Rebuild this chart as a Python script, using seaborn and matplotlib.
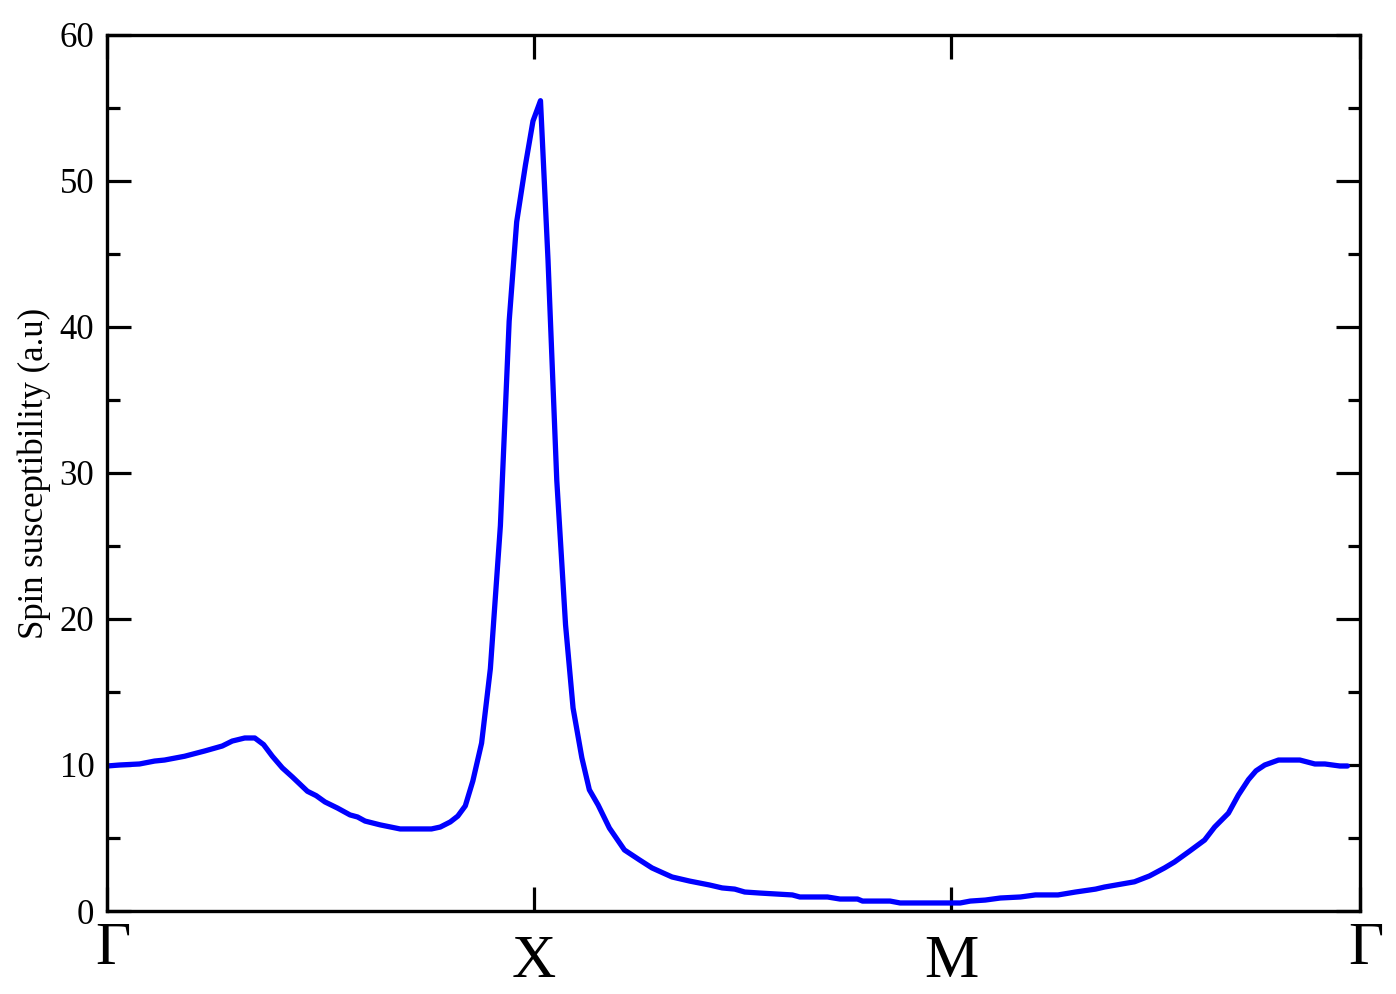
import matplotlib
matplotlib.use("Agg")
import matplotlib.pyplot as plt
import seaborn as sns
import pandas as pd

# caminho no espaco k (fracao do caminho Gamma-X-M-Gamma)
k_path = [0.000, 0.010, 0.026, 0.038, 0.046, 0.062, 0.078, 0.092, 0.100, 0.110,
          0.118, 0.125, 0.132, 0.140, 0.148, 0.160, 0.167, 0.174, 0.184, 0.194,
          0.200, 0.206, 0.218, 0.234, 0.246, 0.259, 0.266, 0.274, 0.280, 0.286,
          0.292, 0.299, 0.306, 0.314, 0.321, 0.327, 0.334, 0.340, 0.346, 0.352,
          0.359, 0.366, 0.372, 0.379, 0.385, 0.392, 0.401, 0.413, 0.425, 0.435,
          0.444, 0.451, 0.465, 0.481, 0.491, 0.501, 0.509, 0.521, 0.547, 0.553,
          0.575, 0.585, 0.599, 0.603, 0.625, 0.633, 0.673, 0.681, 0.689, 0.701,
          0.713, 0.729, 0.741, 0.759, 0.773, 0.789, 0.796, 0.820, 0.832, 0.844,
          0.852, 0.864, 0.876, 0.884, 0.895, 0.903, 0.911, 0.917, 0.924, 0.935,
          0.944, 0.952, 0.964, 0.972, 0.984, 0.990]
chi = [9.93, 10.0, 10.07, 10.27, 10.34, 10.6, 10.96, 11.3, 11.64, 11.85,
       11.85, 11.4, 10.6, 9.8, 9.18, 8.2, 7.9, 7.47, 7.05, 6.58,
       6.44, 6.16, 5.9, 5.62, 5.62, 5.62, 5.75, 6.1, 6.5, 7.2,
       8.9, 11.5, 16.6, 26.4, 40.4, 47.2, 51.1, 54.1, 55.5, 44.6,
       29.5, 19.6, 13.9, 10.5, 8.3, 7.26, 5.68, 4.18, 3.5, 2.95,
       2.6, 2.33, 2.05, 1.78, 1.58, 1.5, 1.3, 1.23, 1.1, 0.96,
       0.96, 0.82, 0.82, 0.68, 0.68, 0.55, 0.55, 0.55, 0.68, 0.75,
       0.89, 0.96, 1.1, 1.1, 1.3, 1.5, 1.64, 2.0, 2.4, 2.95,
       3.36, 4.1, 4.86, 5.75, 6.7, 7.95, 9.0, 9.6, 10.0, 10.34,
       10.34, 10.34, 10.07, 10.07, 9.93, 9.93]

hs_pos = [0.0, 0.3408, 0.6736, 1.0]
hs_labels = ["Γ", "X", "M", "Γ"]
y_ticks = [0, 10, 20, 30, 40, 50, 60]

df = pd.DataFrame({"k": k_path, "chi": chi})

sns.set_style("ticks")
plt.rcParams["font.family"] = ["Liberation Serif", "DejaVu Serif"]
plt.rcParams["text.color"] = "black"
plt.rcParams["axes.labelcolor"] = "black"
plt.rcParams["xtick.color"] = "black"
plt.rcParams["ytick.color"] = "black"
plt.rcParams["axes.edgecolor"] = "black"

fig = plt.figure(figsize=(13.96, 9.94), dpi=100)
ax = fig.add_axes([0.0766, 0.0835, 0.8976, 0.8813])

sns.lineplot(data=df, x="k", y="chi", ax=ax, color="#0000ff", linewidth=3.8)

ax.set_xlim(0, 1)
ax.set_ylim(0, 60)

# eixo y: ticks principais e secundarios para dentro, dos dois lados
ax.set_yticks(y_ticks)
ax.set_yticks(range(5, 60, 10), minor=True)
ax.tick_params(axis="y", which="major", direction="in", length=17, width=2.3,
               left=True, right=True, labelsize=25, pad=9)
ax.tick_params(axis="y", which="minor", direction="in", length=9, width=2.3,
               left=True, right=True)

# eixo x: pontos de alta simetria, rotulos escritos a mao
ax.set_xticks(hs_pos)
ax.set_xticklabels([])
ax.tick_params(axis="x", which="major", direction="in", length=17, width=2.3,
               top=True, bottom=True)
for p, lab in zip(hs_pos, hs_labels):
    dy = 0.0 if lab == "Γ" else -0.015
    ax.text(p + (0.005 if lab == "Γ" else 0), dy - 0.012, lab,
            transform=ax.get_xaxis_transform(), ha="center", va="top",
            fontsize=44, color="black")

for s in ax.spines.values():
    s.set_linewidth(2.4)
    s.set_color("black")
    s.set_visible(True)

ax.set_xlabel("")
ax.set_ylabel("Spin susceptibility (a.u)", fontsize=25, labelpad=6)

fig.savefig("out.png", dpi=100)
